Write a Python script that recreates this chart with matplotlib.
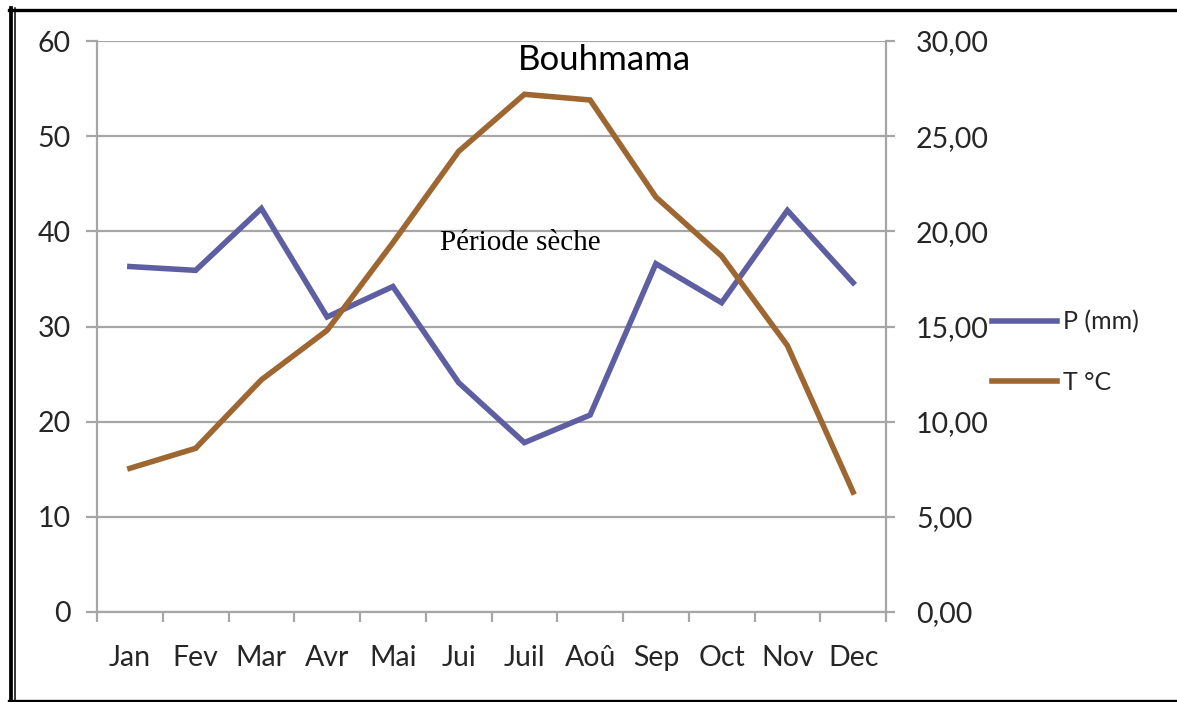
import matplotlib
matplotlib.use("Agg")
import matplotlib.pyplot as plt
from matplotlib.lines import Line2D
from matplotlib.ticker import FuncFormatter
import numpy as np

plt.rcParams['font.family'] = ['Lato', 'DejaVu Sans']

months = ["Jan", "Fev", "Mar", "Avr", "Mai", "Jui", "Juil", "Aoû", "Sep", "Oct", "Nov", "Dec"]
precip = [36.3, 35.9, 42.4, 31.0, 34.2, 24.1, 17.8, 20.7, 36.6, 32.5, 42.2, 34.6]
temp = [7.55, 8.6, 12.2, 14.8, 19.4, 24.2, 27.2, 26.9, 21.8, 18.7, 14.0, 6.3]
p_ticks = [0, 10, 20, 30, 40, 50, 60]
t_ticks = [0, 5, 10, 15, 20, 25, 30]

W, H = 1177, 702
fig = plt.figure(figsize=(W / 100, H / 100), dpi=100)

# plot area in pixels: x 97..886, y 41..612
ax = fig.add_axes([97 / W, 1 - 612 / H, (886 - 97) / W, (612 - 41) / H])
ax2 = ax.twinx()

grey = "#a6a6a6"
blue = "#5e5ea3"
brown = "#9e6630"
txt = "#262626"

x = np.arange(len(months))
l1, = ax.plot(x, precip, color=blue, lw=4, solid_joinstyle="miter", label="P (mm)", zorder=3)
l2, = ax2.plot(x, temp, color=brown, lw=4, solid_joinstyle="miter", label="T °C", zorder=3)

ax.set_xlim(-0.5, len(months) - 0.5)
ax.set_ylim(0, 60)
ax2.set_ylim(0, 30)

ax.set_yticks(p_ticks)
ax2.set_yticks(t_ticks)
ax2.yaxis.set_major_formatter(FuncFormatter(lambda v, p: f"{v:.2f}".replace(".", ",")))

ax.set_xticks(np.arange(len(months) + 1) - 0.5)
ax.set_xticklabels([])
ax.set_xticks(x, minor=True)
ax.set_xticklabels(months, minor=True)

ax.grid(axis="y", color=grey, lw=1.6)
ax.set_axisbelow(True)

for a in (ax, ax2):
    for s in a.spines.values():
        s.set_color(grey)
        s.set_linewidth(1.6)
    a.spines["top"].set_visible(False)
ax.spines["right"].set_visible(False)
ax2.spines["left"].set_visible(False)
ax2.spines["bottom"].set_visible(False)

ax.tick_params(axis="y", direction="out", length=8, width=1.6, color=grey,
               labelsize=20.5, labelcolor=txt, pad=11)
ax2.tick_params(axis="y", direction="out", length=6.5, width=1.6, color=grey,
                labelsize=20.5, labelcolor=txt, pad=15)
ax.tick_params(axis="x", which="major", direction="out", length=7.5, width=1.6, color=grey)
ax.tick_params(axis="x", which="minor", length=0, labelsize=20.5, labelcolor=txt, pad=24)

ax.text((604 - 97) / 789, (612 - 60) / 571, "Bouhmama", transform=ax.transAxes,
        ha="center", va="center", fontsize=25, color="black")
ax.text((520 - 97) / 789, (612 - 243) / 571, "Période sèche", transform=ax.transAxes,
        ha="center", va="center", fontsize=21, family="Liberation Serif", color="black")

fig.legend(handles=[l1, l2], loc="center left",
           bbox_to_anchor=(992 / W, 1 - 352 / H), frameon=False,
           fontsize=18, handlelength=2.6, handletextpad=0.25,
           labelspacing=1.5, borderpad=0, borderaxespad=0, labelcolor=txt)

# black frame around the picture
fig.add_artist(Line2D([11 / W, 11 / W], [0, 1 - 8 / H], transform=fig.transFigure, color="black", lw=2.7))
fig.add_artist(Line2D([14.5 / W, 14.5 / W], [0, 1 - 8 / H], transform=fig.transFigure, color="black", lw=1.1))
fig.add_artist(Line2D([9 / W, 1], [1 - 10 / H, 1 - 10 / H], transform=fig.transFigure, color="black", lw=2.4))
fig.add_artist(Line2D([9 / W, 1], [1 - 700.5 / H, 1 - 700.5 / H], transform=fig.transFigure, color="black", lw=2.4))

fig.savefig("out.png", dpi=100)
